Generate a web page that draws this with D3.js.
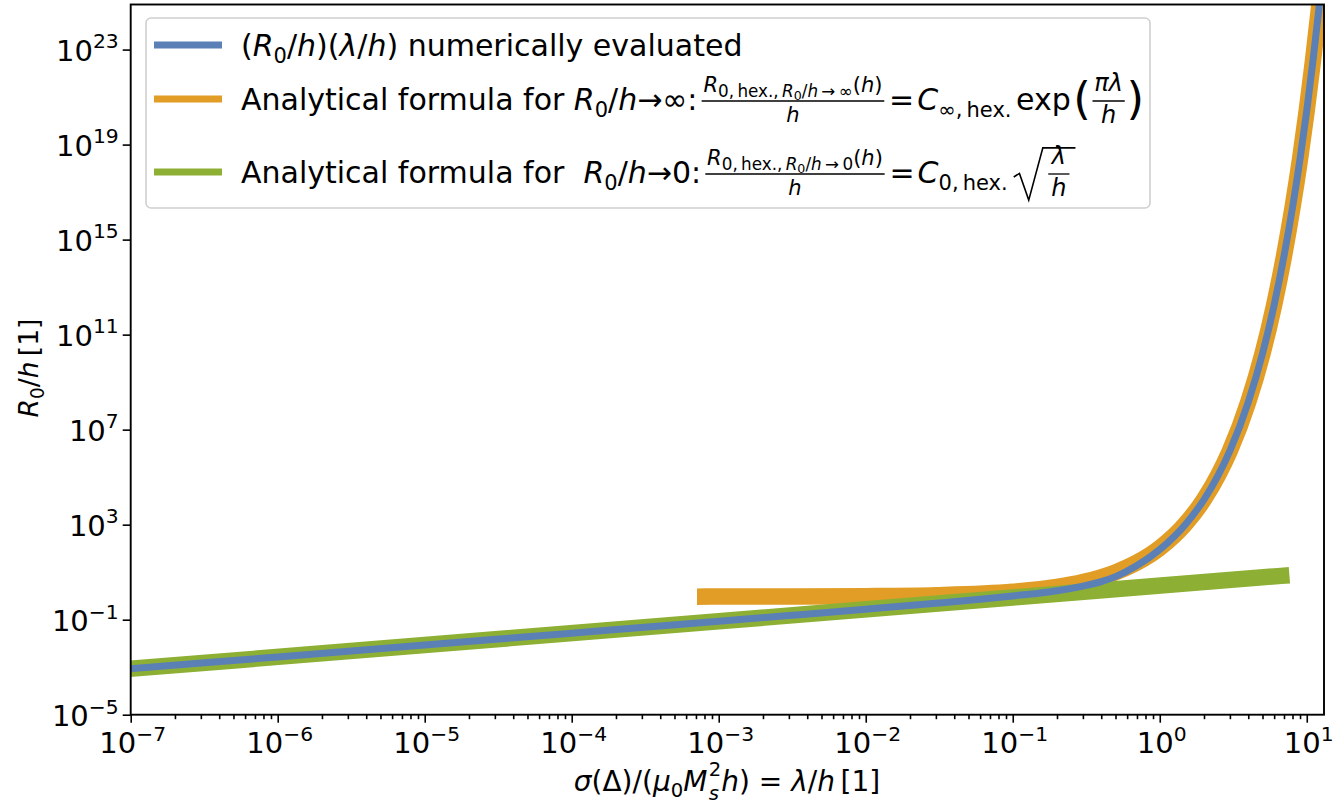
<!DOCTYPE html>
<html><head><meta charset="utf-8">
<script src="https://cdn.jsdelivr.net/npm/d3@7"></script>
<style>
body{margin:0;background:#fff;}
svg{display:block;font-family:"DejaVu Sans",sans-serif;}
text{white-space:pre;fill:#000;}
</style></head><body>
<svg id="chart" width="1339" height="811"></svg>
<script>
// (R0/h)(lambda/h), numerical solution
const numericX = [1e-7, 1e-6, 1e-5, 1e-4, 1e-3, 3e-3, 1e-2, 0.03, 0.06, 0.1, 0.15, 0.2, 0.3, 0.4, 0.5, 0.7, 1, 1.5, 2, 2.5, 3, 4, 5, 6, 7, 8, 9, 10, 11, 12, 12.5];
const numericY = [8.57e-4, 2.71e-3, 8.57e-3, 2.71e-2, 8.57e-2, 0.149, 0.275, 0.49, 0.72, 1.0, 1.3, 1.65, 2.6, 4.0, 6.5, 19, 90, 1.05e3, 1.14e4, 1.22e5, 1.29e6, 1.45e8, 1.58e10, 1.78e12, 2.0e14, 2.24e16, 2.45e18, 2.75e20, 3.09e22, 3.39e24, 3.63e25];

// large-R0 asymptote
const infX = [8.1e-4, 1e-3, 3e-3, 1e-2, 0.03, 0.1, 0.2, 0.3, 0.5, 0.7, 1, 1.5, 2, 2.5, 3, 4, 5, 6, 7, 8, 9, 10, 11, 12, 12.5];
const infY = [0.935, 0.937, 0.946, 0.977, 1.074, 1.496, 2.39, 3.84, 9.86, 25.3, 104, 1.10e3, 1.16e4, 1.23e5, 1.29e6, 1.45e8, 1.58e10, 1.78e12, 2.0e14, 2.24e16, 2.45e18, 2.75e20, 3.09e22, 3.39e24, 3.63e25];

// small-R0 asymptote
const zeroX = [1e-7, 1e-5, 1e-3, 0.1, 6.7];
const zeroY = [8.57e-4, 8.57e-3, 8.57e-2, 0.857, 7.0];

const xTickExponents = [-7, -6, -5, -4, -3, -2, -1, 0, 1];
const yTickExponents = [-5, -1, 3, 7, 11, 15, 19, 23];

const colors = {numeric: "#5b80b6", inf: "#e29d26", zero: "#8db034"};

const plot = {left: 130.7, right: 1324, top: 4.5, bottom: 714.7};
const TFS = 29;     // tick label font size
const AFS = 28;     // axis title font size
const LFS = 30;     // legend font size

const svg = d3.select("#chart");
const x = d3.scaleLog().domain([1e-7, 13.1]).range([plot.left, plot.right]);
const y = d3.scaleLog().domain([1e-5, 7.9e24]).range([plot.bottom, plot.top]);

// ---------- small math-text layout helpers ----------
const isArr = Array.isArray;
function textPiece(g, x0, y0, str, size, italic) {
  const t = g.append("text").attr("x", x0).attr("y", y0)
    .attr("font-size", size).attr("font-style", italic ? "italic" : "normal").text(str);
  return t.node().getComputedTextLength();
}
function run(g, nodes, x0, y0, size) {
  let cx = x0;
  for (const n of nodes) cx += item(g, n, cx, y0, size);
  return cx - x0;
}
function measureInto(g, nodes, size) {
  const sub = g.append("g");
  const w = run(sub, nodes, 0, 0, size);
  return {sub, w};
}
function item(g, n, x0, y0, size) {
  if (typeof n === "string") return textPiece(g, x0, y0, n, size, false);
  if (n.atom !== undefined) {
    // a symbol with a stacked subscript and superscript, kept in one text element
    const s = size * 0.7;
    const t = g.append("text").attr("x", x0).attr("y", y0).attr("font-size", size);
    const a = t.append("tspan").attr("font-style", "italic").text(n.atom);
    const wa = a.node().getComputedTextLength();
    const b = t.append("tspan").attr("font-size", s).attr("font-style", "italic")
      .attr("dx", 0.05 * size).attr("dy", 0.32 * size).text(n.lower);
    const wb = b.node().getComputedTextLength();
    const c = t.append("tspan").attr("font-size", s)
      .attr("dx", -wb).attr("dy", -0.84 * size).text(n.upper);
    const wc = c.node().getComputedTextLength();
    return wa + 0.05 * size + Math.max(wb, wc);
  }
  if (n.i !== undefined) return textPiece(g, x0, y0, n.i, size, true);
  if (n.sp !== undefined) return n.sp * size;
  if (isArr(n.sub)) return run(g, n.sub, x0, y0 + (n.shift ?? 0.22) * size, size * (n.scale ?? 0.7));
  if (isArr(n.sup)) return run(g, n.sup, x0, y0 - (n.shift ?? 0.42) * size, size * (n.scale ?? 0.7));
  if (n.frac) {
    const s = size * (n.scale ?? 0.7);
    const pad = (n.pad ?? 0.1) * size;
    const num = measureInto(g, n.frac[0], s);
    const den = measureInto(g, n.frac[1], s);
    const fw = Math.max(num.w, den.w) + 2 * pad;
    const bar = y0 - 0.3 * size;
    num.sub.attr("transform", `translate(${x0 + (fw - num.w) / 2},${bar - (n.up ?? 0.3) * size})`);
    den.sub.attr("transform", `translate(${x0 + (fw - den.w) / 2},${bar + (n.down ?? 0.7) * size})`);
    g.append("line").attr("x1", x0 + pad * 0.5).attr("x2", x0 + fw - pad * 0.5)
      .attr("y1", bar).attr("y2", bar).attr("stroke", "#000").attr("stroke-width", 1.3);
    return fw;
  }
  if (n.paren) {
    const ps = size * 1.5;
    const lw = textPiece(g, x0, y0 + 0.13 * size, "(", ps, false);
    const bw = run(g, n.paren, x0 + lw, y0, size);
    const rw = textPiece(g, x0 + lw + bw, y0 + 0.13 * size, ")", ps, false);
    return lw + bw + rw;
  }
  if (n.sqrt) {
    const lead = 1.1 * size;
    const bw = run(g, n.sqrt, x0 + lead, y0, size);
    const top = y0 - 1.17 * size, bot = y0 + 0.57 * size;
    g.append("path")
      .attr("d", `M${x0 + 0.05 * size},${y0 - 0.2 * size} L${x0 + 0.24 * size},${y0 - 0.32 * size} L${x0 + 0.55 * size},${bot} L${x0 + lead - 0.08 * size},${top} L${x0 + lead + bw + 0.1 * size},${top}`)
      .attr("fill", "none").attr("stroke", "#000").attr("stroke-width", 1.6).attr("stroke-linejoin", "miter");
    return lead + bw + 0.15 * size;
  }
  return 0;
}
function centered(g, nodes, cx, y0, size) {
  const m = measureInto(g, nodes, size);
  m.sub.attr("transform", `translate(${cx - m.w / 2},${y0})`);
}
function rightAligned(g, nodes, rx, y0, size) {
  const m = measureInto(g, nodes, size);
  m.sub.attr("transform", `translate(${rx - m.w},${y0})`);
}

// ---------- curves ----------
svg.append("defs").append("clipPath").attr("id", "plotClip")
  .append("rect").attr("x", plot.left).attr("y", plot.top)
  .attr("width", plot.right - plot.left).attr("height", plot.bottom - plot.top);

const line = d3.line().x(d => x(d[0])).y(d => y(d[1])).curve(d3.curveMonotoneX);
const curves = svg.append("g").attr("clip-path", "url(#plotClip)");
function drawSeries(xs, ys, color, width) {
  curves.append("path").datum(d3.zip(xs, ys)).attr("d", line)
    .attr("fill", "none").attr("stroke", color).attr("stroke-width", width)
    .attr("stroke-linecap", "square").attr("stroke-linejoin", "round");
}
drawSeries(infX, infY, colors.inf, 16.5);
drawSeries(zeroX, zeroY, colors.zero, 16.5);
drawSeries(numericX, numericY, colors.numeric, 7);

// ---------- axes ----------
const majorX = xTickExponents.map(e => Math.pow(10, e));
const minorX = [];
for (let e = -7; e <= 1; e++) for (let m = 2; m <= 9; m++) {
  const v = m * Math.pow(10, e);
  if (v <= 13.1) minorX.push(v);
}
const axisG = svg.append("g");
axisG.append("g").attr("transform", `translate(0,${plot.bottom})`)
  .call(d3.axisBottom(x).tickValues(minorX).tickSize(4.5).tickFormat(""));
axisG.append("g").attr("transform", `translate(0,${plot.bottom})`)
  .call(d3.axisBottom(x).tickValues(majorX).tickSize(8).tickFormat(""));
axisG.append("g").attr("transform", `translate(${plot.left},0)`)
  .call(d3.axisLeft(y).tickValues(yTickExponents.map(e => Math.pow(10, e))).tickSize(8).tickFormat(""));
axisG.selectAll(".domain").remove();
axisG.selectAll(".tick line").attr("stroke", "#000").attr("stroke-width", 1.6);

svg.append("rect").attr("x", plot.left).attr("y", plot.top)
  .attr("width", plot.right - plot.left).attr("height", plot.bottom - plot.top)
  .attr("fill", "none").attr("stroke", "#000").attr("stroke-width", 1.9);

const labels = svg.append("g");
const minus = e => (e < 0 ? "\u2212" + (-e) : String(e));
xTickExponents.forEach(e => {
  centered(labels, ["10", {sup: [minus(e)]}], x(Math.pow(10, e)) + 2, 753, TFS);
});
yTickExponents.forEach(e => {
  rightAligned(labels, ["10", {sup: [minus(e)]}], plot.left - 12, y(Math.pow(10, e)) + 11, TFS);
});

// axis titles
centered(labels, [{i: "σ"}, "(Δ)/(", {i: "μ"}, {sub: ["0"]},
  {atom: "M", lower: "s", upper: "2"}, {i: "h"}, ") = ", {i: "λ"}, "/", {i: "h"}, "\u2009[1]"], 727, 791, AFS);
const yl = labels.append("g").attr("transform", "translate(38,368) rotate(-90)");
centered(yl, [{i: "R"}, {sub: ["0"]}, "/", {i: "h"}, "\u2009[1]"], 0, 0, 26.5);

// ---------- legend ----------
const leg = svg.append("g");
leg.append("rect").attr("x", 146).attr("y", 18).attr("width", 1004).attr("height", 190)
  .attr("rx", 5).attr("fill", "#fff").attr("fill-opacity", 0.8)
  .attr("stroke", "#d0d0d0").attr("stroke-width", 1.6);

const R0h = [{i: "R"}, {sub: ["0"]}, "/", {i: "h"}];
// numerator R_{0, hex., R0/h -> limit}(h), subscripts set a little larger than plain script size
const limitNumerator = lim => [{i: "R"},
  {sub: ["0,\u2009hex.,\u2009", {i: "R"}, {sub: ["0"], scale: 0.75}, "/", {i: "h"}, "\u2009\u2192\u2009" + lim], scale: 0.8},
  "(", {i: "h"}, ")"];
const rows = [
  {color: colors.numeric, cy: 45, base: 56,
   nodes: ["(", ...R0h, ")(", {i: "λ"}, "/", {i: "h"}, ") numerically evaluated"]},
  {color: colors.inf, cy: 99, base: 110,
   nodes: ["Analytical formula for ", ...R0h, "\u2192\u221E:", {sp: 0.08},
     {frac: [limitNumerator("\u221E"), [{i: "h"}]], pad: 0.12},
     {sp: 0.1}, "=", {sp: 0.1}, {i: "C"}, {sub: ["\u221E,\u2009hex."]}, {sp: 0.15}, "exp", {sp: 0.08},
     {paren: [{frac: [[{i: "π"}, {i: "λ"}], [{i: "h"}]], scale: 0.8, pad: 0.12, up: 0.32, down: 0.74}]}]},
  {color: colors.zero, cy: 172, base: 183,
   nodes: ["Analytical formula for  ", ...R0h, "\u21920:", {sp: 0.08},
     {frac: [limitNumerator("0"), [{i: "h"}]], pad: 0.12},
     {sp: 0.1}, "=", {sp: 0.1}, {i: "C"}, {sub: ["0,\u2009hex."]}, {sp: 0.15},
     {sqrt: [{frac: [[{i: "λ"}], [{i: "h"}]], scale: 0.8, pad: 0.2, up: 0.32, down: 0.74}]}]}
];
rows.forEach(r => {
  leg.append("line").attr("x1", 154).attr("x2", 222).attr("y1", r.cy).attr("y2", r.cy)
    .attr("stroke", r.color).attr("stroke-width", 7);
  run(leg, r.nodes, 241, r.base, LFS);
});
</script>
</body></html>
